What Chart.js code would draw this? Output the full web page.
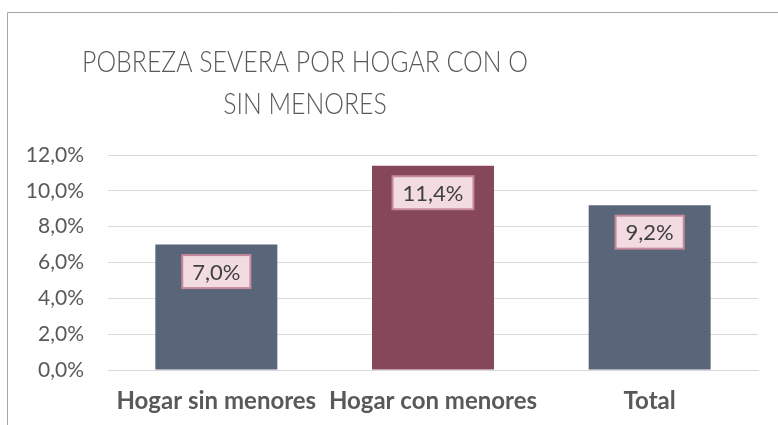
<!DOCTYPE html>
<html>
<head>
<meta charset="utf-8">
<script src="https://cdn.jsdelivr.net/npm/chart.js@4"></script>
<style>
  html, body { margin: 0; padding: 0; background: #ffffff; }
  #wrap { position: relative; width: 778px; height: 425px; }
</style>
</head>
<body>
<div id="wrap"><canvas id="c" width="778" height="425"></canvas></div>
<script>
const categories = ['Hogar sin menores', 'Hogar con menores', 'Total'];
const values = [7.0, 11.4, 9.2];
const barColors = ['#596579', '#86475A', '#596579'];
const titleLines = ['POBREZA SEVERA POR HOGAR CON O', 'SIN MENORES'];
const yMin = 0, yMax = 12, yStep = 2;

const FONT = 'Lato, Carlito, "Open Sans", sans-serif';
const fmt = v => v.toFixed(1).replace('.', ',') + '%';

const framePlugin = {
  id: 'frame',
  beforeDraw(chart) {
    const ctx = chart.ctx;
    ctx.save();
    ctx.fillStyle = '#ffffff';
    ctx.fillRect(0, 0, chart.width, chart.height);
    ctx.strokeStyle = '#A6A6A6';
    ctx.lineWidth = 1;
    ctx.beginPath();
    ctx.moveTo(7.5, chart.height + 2);
    ctx.lineTo(7.5, 12.5);
    ctx.lineTo(chart.width + 2, 12.5);
    ctx.stroke();
    ctx.restore();
  }
};

const titlePlugin = {
  id: 'customTitle',
  afterDraw(chart) {
    const ctx = chart.ctx;
    ctx.save();
    ctx.fillStyle = '#595959';
    ctx.font = '300 30px ' + FONT;
    ctx.textAlign = 'center';
    ctx.textBaseline = 'middle';
    const w = ctx.measureText(titleLines[0]).width;
    const sx = 446 / w;
    ctx.translate(305, 0);
    ctx.scale(sx, 1);
    ctx.fillText(titleLines[0], 0, 62);
    ctx.fillText(titleLines[1], 0, 104);
    ctx.restore();
  }
};

const labelPlugin = {
  id: 'dataLabels',
  afterDatasetsDraw(chart) {
    const ctx = chart.ctx;
    const meta = chart.getDatasetMeta(0);
    ctx.save();
    ctx.font = '22px ' + FONT;
    ctx.textAlign = 'center';
    ctx.textBaseline = 'middle';
    meta.data.forEach((bar, i) => {
      const txt = fmt(values[i]);
      const w = ctx.measureText(txt).width + 20;
      const h = 33;
      const cx = bar.x;
      const cy = bar.y + 27;
      ctx.fillStyle = '#F2DCE1';
      ctx.fillRect(cx - w / 2, cy - h / 2, w, h);
      ctx.strokeStyle = '#C48A9C';
      ctx.lineWidth = 2;
      ctx.strokeRect(cx - w / 2, cy - h / 2, w, h);
      ctx.fillStyle = '#404040';
      ctx.fillText(txt, cx, cy + 1);
    });
    ctx.restore();
  }
};

new Chart(document.getElementById('c'), {
  type: 'bar',
  data: {
    labels: categories,
    datasets: [{
      data: values,
      backgroundColor: barColors,
      borderWidth: 0,
      categoryPercentage: 1,
      barPercentage: 0.563
    }]
  },
  options: {
    responsive: false,
    animation: false,
    devicePixelRatio: 1,
    layout: { padding: { left: 0, right: 20, top: 155, bottom: 0 } },
    plugins: {
      legend: { display: false },
      title: { display: false },
      tooltip: { enabled: false }
    },
    scales: {
      x: {
        grid: { display: false, drawTicks: false },
        border: { display: true, color: '#D9D9D9', width: 1 },
        ticks: {
          color: '#595959',
          font: { family: FONT, size: 24, weight: 'bold' },
          padding: 17,
          maxRotation: 0,
          autoSkip: false
        },
        afterFit(s) { s.height = 55; }
      },
      y: {
        min: yMin,
        max: yMax,
        grid: { color: '#D9D9D9', lineWidth: 1, drawTicks: false },
        border: { display: false },
        ticks: {
          stepSize: yStep,
          color: '#595959',
          font: { family: FONT, size: 21 },
          padding: 24,
          callback: v => fmt(v)
        },
        afterFit(s) { s.width = 108; }
      }
    }
  },
  plugins: [framePlugin, titlePlugin, labelPlugin]
});
</script>
</body>
</html>
